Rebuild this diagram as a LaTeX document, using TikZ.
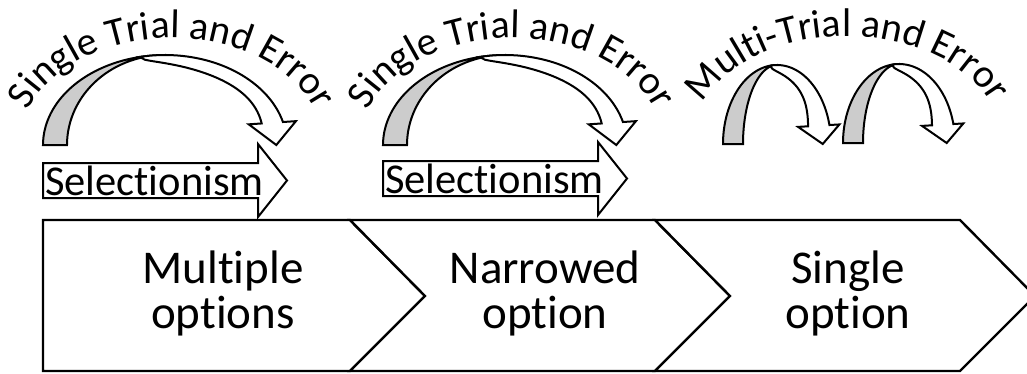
\documentclass[tikz,border=0pt]{standalone}
\usepackage{fontspec}
\setmainfont{Carlito}[Ligatures=NoCommon]
\usetikzlibrary{decorations.text}

\tikzset{
  outline/.style={draw=black, line width=2pt, line join=miter},
  backband/.style={outline, fill=gray!40},
  frontband/.style={outline, fill=white},
  chevron/.style={draw=black, line width=2.4pt, fill=white, line join=miter},
  flatarrow/.style={draw=black, line width=2pt, fill=white, line join=miter},
  stagetext/.style={font=\fontsize{47}{47}\selectfont, anchor=base, inner sep=0pt},
  flattext/.style={font=\fontsize{42.5}{42.5}\selectfont, anchor=base west, inner sep=0pt},
}

% Curved "trial and error" arrow: centre x, base y, outer radii, back band width,
% front band width, head overhang, start angle and end angle of the front band
\newcommand\bendarrow[9]{%
\begin{scope}[shift={(#1,#2)}]
  \pgfmathsetmacro\Rx{#3}%
  \pgfmathsetmacro\Ry{#4}%
  \pgfmathsetmacro\Gw{#5}%
  \pgfmathsetmacro\Sw{#6}%
  \pgfmathsetmacro\Eh{#7}%
  \pgfmathsetmacro\Ta{#8}%
  \pgfmathsetmacro\Tb{#9}%
  \pgfmathsetmacro\Ox{\Rx*cos(\Tb)}%
  \pgfmathsetmacro\Oy{-\Ry*sin(\Tb)}%
  \pgfmathsetmacro\Ix{(\Rx-\Sw)*cos(\Tb)}%
  \pgfmathsetmacro\Iy{-(\Ry-\Sw*sin(\Tb))*sin(\Tb)}%
  \pgfmathsetmacro\Dl{veclen(\Ox-\Ix,\Oy-\Iy)}%
  \pgfmathsetmacro\Dx{(\Ox-\Ix)/\Dl}%
  \pgfmathsetmacro\Dy{(\Oy-\Iy)/\Dl}%
  \filldraw[backband]
    plot[domain=180:90,samples=40] ({\Rx*cos(\x)},{-\Ry*sin(\x)})
    -- plot[domain=90:180,samples=40] ({(\Rx-\Gw)*cos(\x)},{-\Ry*sin(\x)})
    -- cycle;
  \filldraw[frontband]
    plot[domain=\Ta:\Tb,samples=40] ({\Rx*cos(\x)},{-\Ry*sin(\x)})
    -- ({\Ox+\Eh*\Dx},{\Oy+\Eh*\Dy})
    -- ({(\Ox+\Ix)/2+4},0)
    -- ({\Ix-\Eh*\Dx},{\Iy-\Eh*\Dy})
    -- plot[domain=\Tb:\Ta,samples=40]
       ({(\Rx-\Sw*sqrt(abs((\Ta-\x)/(\Ta-\Tb))))*cos(\x)},
        {-(\Ry-\Sw*sqrt(abs((\Ta-\x)/(\Ta-\Tb)))*sin(\x))*sin(\x)})
    -- cycle;
\end{scope}}

% Text set along the upper half of an ellipse: centre x, centre y, radii, text
\newcommand\archtext[5]{%
  \path[decorate, decoration={text along path, text align=center,
        text={|\fontsize{40}{40}\selectfont|#5}}]
    plot[domain=180:0, samples=90] ({#1+#3*cos(\x)},{#2-#4*sin(\x)});
}

\begin{document}
\begin{tikzpicture}[x=1pt, y=-1pt]
\useasboundingbox (0,0) rectangle (1027,373);

% stage chevrons
\draw[chevron] (43,220) -- (350,220) -- (425,296) -- (350,371) -- (43,371) -- cycle;
\draw[chevron] (350,220) -- (655,220) -- (730,296) -- (655,371) -- (350,371) -- (425,296) -- cycle;
\draw[chevron] (655,220) -- (960,220) -- (1035,296) -- (960,371) -- (655,371) -- (730,296) -- cycle;

\node[stagetext] (m1) at (223,283) {Multiple};
\node[stagetext] (m2) at (223,328) {options};
\node[stagetext] (n1) at (545,283) {Narrowed};
\node[stagetext] (n2) at (545,328) {option};
\node[stagetext] (s1) at (848,283) {Single};
\node[stagetext] (s2) at (848,328) {option};

% selectionism arrows
\draw[flatarrow] (43,163) -- (258,163) -- (258,144) -- (287,180.5) -- (258,217) -- (258,198) -- (43,198) -- cycle;
\node[flattext] (sel1) at (45,195.5) {Selectionism};
\draw[flatarrow] (383,161) -- (598,161) -- (598,142) -- (627,178.5) -- (598,215) -- (598,196) -- (383,196) -- cycle;
\node[flattext] (sel2) at (385,193.5) {Selectionism};

% trial and error arrows
\bendarrow{165}{145}{122}{90}{24}{22}{13}{102}{14.8}
\bendarrow{505}{145}{122}{90}{24}{22}{13}{102}{14.8}
\bendarrow{777}{144}{54}{79}{20}{22}{10}{97.4}{13.9}
\bendarrow{899}{143}{56}{79}{20}{22}{10}{97.4}{13.9}

% arched captions
\archtext{172}{145}{152}{107}{Single Trial and Error}
\archtext{512}{145}{152}{107}{Single Trial and Error}
\archtext{847}{145}{156}{109}{Multi-Trial and Error}

\end{tikzpicture}
\end{document}
